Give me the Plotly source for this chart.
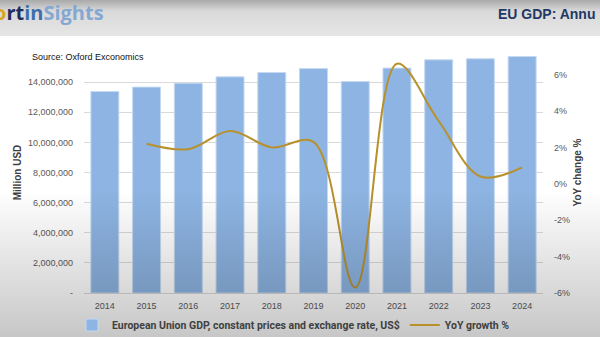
import base64
import plotly.graph_objects as go

years = ["2014", "2015", "2016", "2017", "2018", "2019", "2020", "2021", "2022", "2023", "2024"]
gdp_musd = [13380000, 13670000, 13930000, 14350000, 14640000, 14900000, 14040000, 14930000, 15480000, 15550000, 15700000]
yoy_years = ["2015", "2016", "2017", "2018", "2019", "2020", "2021", "2022", "2023", "2024"]
yoy_pct = [2.2, 1.9, 2.9, 2.0, 2.3, -5.7, 6.6, 3.45, 0.4, 0.9]
left_tickvals = [0, 2000000, 4000000, 6000000, 8000000, 10000000, 12000000, 14000000]
left_ticktext = ["-", "2,000,000", "4,000,000", "6,000,000", "8,000,000", "10,000,000", "12,000,000", "14,000,000"]
right_tickvals = [-6, -4, -2, 0, 2, 4, 6]
right_ticktext = ["-6%", "-4%", "-2%", "0%", "2%", "4%", "6%"]

W, H = 600, 337
ML, MR, MT, MB = 84, 57, 52, 44
PW, PH = W - ML - MR, H - MT - MB


def px(x):
    return (x - ML) / PW


def py(y):
    return (H - MB - y) / PH


def svg_uri(svg):
    return "data:image/svg+xml;base64," + base64.b64encode(svg.encode()).decode()


bg_svg = (
    "<svg xmlns='http://www.w3.org/2000/svg' width='600' height='337' viewBox='0 0 600 337' preserveAspectRatio='none'>"
    "<defs><linearGradient id='h' x1='0' y1='0' x2='0' y2='1'>"
    "<stop offset='0' stop-color='#a9a9a9'/><stop offset='0.3' stop-color='#d9d9d9'/>"
    "<stop offset='1' stop-color='#e6e6e6'/></linearGradient></defs>"
    "<rect x='0' y='0' width='600' height='36' fill='url(#h)'/></svg>"
)
ov_svg = (
    "<svg xmlns='http://www.w3.org/2000/svg' width='600' height='337' viewBox='0 0 600 337' preserveAspectRatio='none'>"
    "<defs><linearGradient id='g' x1='0' y1='0' x2='0' y2='1'>"
    "<stop offset='0' stop-color='#000' stop-opacity='0'/>"
    "<stop offset='1' stop-color='#000' stop-opacity='0.22'/></linearGradient></defs>"
    "<rect x='0' y='190' width='600' height='147' fill='url(#g)'/></svg>"
)

fig = go.Figure()
fig.add_trace(go.Bar(
    x=years, y=gdp_musd,
    name="European Union GDP, constant prices and exchange rate, US$",
    marker=dict(color="#8DB4E2", line=dict(color="#C5D9F1", width=1)),
    yaxis="y",
))
fig.add_trace(go.Scatter(
    x=yoy_years, y=yoy_pct, name="YoY growth %", mode="lines",
    line=dict(color="#B8912C", width=2, shape="spline", smoothing=1.0),
    yaxis="y2",
))

tickfont = dict(family="Liberation Sans, Arial", size=9, color="#595959")
fig.update_layout(
    width=W, height=H,
    margin=dict(l=ML, r=MR, t=MT, b=MB, autoexpand=False),
    paper_bgcolor="white", plot_bgcolor="rgba(0,0,0,0)",
    bargap=0.33,
    showlegend=True,
    legend=dict(orientation="h", xref="container", yref="container",
                x=72 / W, xanchor="left", y=(H - 325) / H, yanchor="middle",
                font=dict(family="Roboto", size=10.5, color="#404040", weight="bold"),
                bgcolor="rgba(0,0,0,0)", itemwidth=30, tracegroupgap=0),
    xaxis=dict(type="category", showgrid=False, showline=True, linecolor="#D9D9D9",
               tickfont=tickfont, ticks="", ticklabelstandoff=4),
    yaxis=dict(range=[0, 16000000], tickvals=left_tickvals, ticktext=left_ticktext,
               showgrid=True, gridcolor="#D9D9D9", gridwidth=1, zeroline=False,
               tickfont=tickfont, ticklabelstandoff=10,
               title=dict(text="<b>Million USD</b>", standoff=4,
                          font=dict(family="Liberation Sans, Arial", size=10, color="#404040"))),
    yaxis2=dict(range=[-6, 7.24], overlaying="y", side="right", tickvals=right_tickvals,
                ticktext=right_ticktext, showgrid=False, zeroline=False,
                tickfont=tickfont, ticklabelstandoff=10,
                title=dict(text="<b>YoY change %</b>", standoff=4,
                           font=dict(family="Liberation Sans, Arial", size=10, color="#404040"))),
    images=[
        dict(source=svg_uri(bg_svg), xref="paper", yref="paper", x=px(0), y=py(0),
             sizex=W / PW, sizey=H / PH, xanchor="left", yanchor="top",
             sizing="stretch", layer="below"),
        dict(source=svg_uri(ov_svg), xref="paper", yref="paper", x=px(0), y=py(0),
             sizex=W / PW, sizey=H / PH, xanchor="left", yanchor="top",
             sizing="stretch", layer="above"),
    ],
    annotations=[
        dict(text="Source: Oxford Exconomics", xref="paper", yref="paper", x=px(30), y=py(57),
             xanchor="left", yanchor="middle", showarrow=False,
             font=dict(family="Liberation Sans, Arial", size=9, color="#111111")),
        dict(text="<span style='color:#D9A520'>o</span><span style='color:#1F2D5C'>rt</span>"
                  "<span style='color:#3D6FB0'>in</span><span style='color:#85A8D2'>Sights</span>",
             xref="paper", yref="paper", x=px(-8), y=py(13), xanchor="left", yanchor="middle",
             showarrow=False, font=dict(family="Open Sans", size=20, weight="bold")),
        dict(text="EU GDP: Annu", xref="paper", yref="paper", x=px(496), y=py(14),
             xanchor="left", yanchor="middle", showarrow=False,
             font=dict(family="Liberation Sans, Arial", size=14, color="#1F3864", weight="bold")),
    ],
)

fig.write_html("out.html")
